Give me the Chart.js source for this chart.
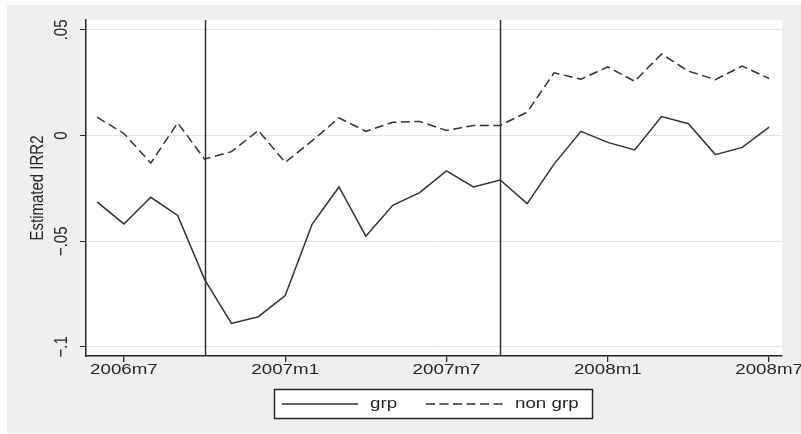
<!DOCTYPE html>
<html>
<head>
<meta charset="utf-8">
<script src="https://cdn.jsdelivr.net/npm/chart.js@4/dist/chart.umd.min.js"></script>
<style>
  html, body { margin: 0; padding: 0; background: #fff; }
  #wrap { width: 801px; height: 434px; position: relative; }
</style>
</head>
<body>
<div id="wrap"><canvas id="irr"></canvas></div>
<script>
// monthly periods, 2006m6 .. 2008m7
var months = [
    '2006m6', '2006m7', '2006m8', '2006m9', '2006m10', '2006m11', '2006m12',
    '2007m1', '2007m2', '2007m3', '2007m4', '2007m5', '2007m6', '2007m7',
    '2007m8', '2007m9', '2007m10', '2007m11', '2007m12',
    '2008m1', '2008m2', '2008m3', '2008m4', '2008m5', '2008m6', '2008m7'
];
var grp = [
    -0.0314, -0.0418, -0.0292, -0.0378, -0.0680, -0.0889, -0.0857,
    -0.0757, -0.0420, -0.0243, -0.0476, -0.0330, -0.0270, -0.0167,
    -0.0243, -0.0210, -0.0322, -0.0135, 0.0020,
    -0.0032, -0.0068, 0.0090, 0.0056, -0.0090, -0.0056, 0.0040
];
var nonGrp = [
    0.0087, 0.0010, -0.0130, 0.0060, -0.0111, -0.0076, 0.0024,
    -0.0127, -0.0025, 0.0084, 0.0020, 0.0063, 0.0067, 0.0024,
    0.0048, 0.0048, 0.0111, 0.0297, 0.0267,
    0.0325, 0.0257, 0.0386, 0.0305, 0.0265, 0.0329, 0.0270
];
var xTickMonths = ['2006m7', '2007m1', '2007m7', '2008m1', '2008m7'];
var yTicks = [-0.1, -0.05, 0, 0.05];
var yTickLabels = ['\u2212.1', '\u2212.05', '0', '.05'];
var eventMonths = ['2006m10', '2007m9'];

var ink = '#262626';
var stretch = 1.25;   // horizontal text stretch of the stata export
var font = '15px "Liberation Sans", Arial, sans-serif';

function pts(vals) {
    return vals.map(function (v, i) { return { x: i, y: v }; });
}

function label(ctx, text, x, y, rot, align) {
    ctx.save();
    ctx.translate(x, y);
    ctx.scale(stretch, 1);
    ctx.rotate(rot || 0);
    ctx.font = font;
    ctx.fillStyle = ink;
    ctx.textAlign = align || 'center';
    ctx.textBaseline = 'middle';
    ctx.fillText(text, 0, 0);
    ctx.restore();
}

var backdrop = {
    id: 'backdrop',
    beforeDraw: function (chart) {
        var ctx = chart.ctx, a = chart.chartArea;
        ctx.save();
        ctx.fillStyle = '#efefef';
        ctx.fillRect(7, 5, chart.width - 7, chart.height - 6);
        ctx.fillStyle = '#fff';
        ctx.fillRect(a.left, a.top, a.right - a.left, a.bottom - a.top);
        ctx.restore();
    }
};

var extras = {
    id: 'extras',
    afterDatasetsDraw: function (chart) {
        var ctx = chart.ctx, a = chart.chartArea;
        var xs = chart.scales.x;

        // reference lines
        ctx.save();
        ctx.strokeStyle = '#333';
        ctx.lineWidth = 1.5;
        eventMonths.forEach(function (m) {
            var px = Math.round(xs.getPixelForValue(months.indexOf(m))) + 0.5;
            ctx.beginPath();
            ctx.moveTo(px, a.top);
            ctx.lineTo(px, a.bottom);
            ctx.stroke();
        });
        ctx.restore();
    },
    afterDraw: function (chart) {
        var ctx = chart.ctx, a = chart.chartArea;
        var xs = chart.scales.x, ys = chart.scales.y;

        yTicks.forEach(function (v, i) {
            label(ctx, yTickLabels[i], 62, ys.getPixelForValue(v), -Math.PI / 2);
        });
        xTickMonths.forEach(function (m) {
            label(ctx, m, xs.getPixelForValue(months.indexOf(m)), 370, 0);
        });
        label(ctx, 'Estimated IRR2', 38, (a.top + a.bottom) / 2, -Math.PI / 2);

        // legend box
        ctx.save();
        ctx.fillStyle = '#fff';
        ctx.fillRect(274, 389, 319, 29);
        ctx.strokeStyle = ink;
        ctx.lineWidth = 1.5;
        ctx.strokeRect(274.5, 389.5, 318, 29);
        var items = [[282, 358, 370], [426, 505, 515]];
        chart.data.datasets.forEach(function (ds, i) {
            var it = items[i];
            ctx.strokeStyle = ds.borderColor;
            ctx.lineWidth = ds.borderWidth;
            ctx.setLineDash(ds.borderDash || []);
            ctx.beginPath();
            ctx.moveTo(it[0], 404);
            ctx.lineTo(it[1], 404);
            ctx.stroke();
            ctx.setLineDash([]);
            label(ctx, ds.label, it[2], 404, 0, 'left');
        });
        ctx.restore();
    }
};

new Chart(document.getElementById('irr'), {
    type: 'line',
    data: {
        datasets: [{
            label: 'grp',
            data: pts(grp),
            borderColor: '#333',
            borderWidth: 1.5,
            pointRadius: 0,
            tension: 0,
            fill: false
        }, {
            label: 'non grp',
            data: pts(nonGrp),
            borderColor: '#333',
            borderWidth: 1.5,
            borderDash: [9, 4.5],
            pointRadius: 0,
            tension: 0,
            fill: false
        }]
    },
    options: {
        responsive: true,
        maintainAspectRatio: false,
        animation: false,
        events: [],
        layout: { padding: { left: 7, top: 20, right: 19, bottom: 0 } },
        plugins: { legend: { display: false }, tooltip: { enabled: false } },
        scales: {
            x: {
                type: 'linear',
                min: -0.41,
                max: 25.48,
                afterBuildTicks: function (s) {
                    s.ticks = xTickMonths.map(function (m) { return { value: months.indexOf(m) }; });
                },
                afterFit: function (s) { s.height = 78; },
                ticks: { display: false },
                grid: { drawOnChartArea: false, tickLength: 6, tickColor: ink, lineWidth: 1.3 },
                border: { color: ink, width: 1.5 }
            },
            y: {
                min: -0.1043,
                max: 0.0547,
                afterBuildTicks: function (s) {
                    s.ticks = yTicks.map(function (v) { return { value: v }; });
                },
                afterFit: function (s) { s.width = 79; },
                ticks: { display: false },
                grid: { color: '#e4e4e4', lineWidth: 1, tickLength: 6, tickColor: ink },
                border: { color: ink, width: 1.5 }
            }
        }
    },
    plugins: [backdrop, extras]
});
</script>
</body>
</html>
